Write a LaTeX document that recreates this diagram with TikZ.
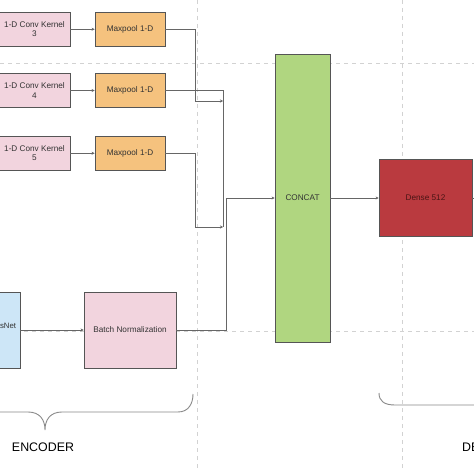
\documentclass[tikz,border=0pt]{standalone}
\usepackage{fontspec}
\setmainfont{Liberation Sans}
\usetikzlibrary{arrows.meta}
\definecolor{pinkf}{HTML}{F2D4DE}
\definecolor{orangef}{HTML}{F5C27E}
\definecolor{greenf}{HTML}{B0D680}
\definecolor{redf}{HTML}{BA3A3F}
\definecolor{bluef}{HTML}{CDE6F7}
\definecolor{bord}{HTML}{555555}
\definecolor{linec}{HTML}{666666}
\definecolor{gridc}{HTML}{D2D2D2}
\definecolor{bracec}{HTML}{8A8A8A}
\definecolor{txt}{HTML}{333333}
\definecolor{dtxt}{HTML}{4A1515}
\tikzset{
  box/.style={draw=bord, line width=0.8bp, inner sep=1bp, align=center,
    font=\fontsize{8.2bp}{9.6bp}\selectfont, text=txt},
  convbox/.style={box, fill=pinkf, minimum width=71bp, minimum height=34.5bp},
  poolbox/.style={box, fill=orangef, minimum width=70bp, minimum height=34.5bp},
  conn/.style={draw=linec, line width=0.6bp},
  arr/.style={conn, -{Stealth[length=3bp,width=3bp]}},
  gridline/.style={draw=gridc, line width=0.7bp, dash pattern=on 4bp off 4bp},
  bracel/.style={draw=bracec, line width=0.9bp},
  lbl/.style={font=\fontsize{12.4bp}{14bp}\selectfont, text=black, inner sep=0pt}
}
\begin{document}
\begin{tikzpicture}[x=1bp,y=-1bp]
\useasboundingbox[fill=white] (0,0) rectangle (474,474);
\begin{scope}
\clip (0,0) rectangle (474,474);
% grid
\draw[gridline] (0,63) -- (474,63);
\draw[gridline] (0,331) -- (474,331);
\draw[gridline] (197,0) -- (197,470);
\draw[gridline] (402,0) -- (402,470);

% nodes
\node[convbox] (c3) at (34.5,29.25) {1-D Conv Kernel\\3};
\node[poolbox] (m1) at (130,29.25) {Maxpool 1-D};
\node[convbox] (c4) at (34.5,90.5) {1-D Conv Kernel\\4};
\node[poolbox] (m2) at (130,90.5) {Maxpool 1-D};
\node[convbox] (c5) at (34.5,153.25) {1-D Conv Kernel\\5};
\node[poolbox] (m3) at (130,153.25) {Maxpool 1-D};
\node[box, fill=greenf, minimum width=55bp, minimum height=288bp] (cc) at (302.5,198) {CONCAT};
\node[box, fill=redf, text=dtxt, minimum width=93bp, minimum height=77bp] (dn) at (425.5,198) {Dense 512};
\node[box, fill=bluef, minimum width=38bp, minimum height=76bp] (rn) at (1,330) {};
\node[box, draw=none, anchor=east, inner sep=0pt, font=\fontsize{7.8bp}{9bp}\selectfont] (rnl) at (16.5,326) {ResNet};
\node[box, fill=pinkf, minimum width=92bp, minimum height=76bp] (bn) at (130,330) {Batch Normalization};

\coordinate (j1) at (223,101);
\coordinate (j3) at (223,227);
\coordinate (k) at (226,198);
\coordinate (out) at (480,198);

% connectors
\draw[arr] (c3.east) -- (m1.west);
\draw[arr] (c4.east) -- (m2.west);
\draw[arr] (c5.east) -- (m3.west);
\draw[arr] (m1.east) -- ++(30,0) |- (j1);
\draw[conn] (m2.east) -| (j3);
\draw[arr] (m3.east) -- ++(30,0) |- (j3);
\draw[arr] (bn.east) -| (k) -- (cc.west);
\draw[arr] (rn.east) -- (bn.west);
\draw[arr] (cc.east) -- (dn.west);
\draw[conn] (dn.east) -- (out);

% braces
\draw[bracel] (-10,412) -- (28,412) .. controls (40,412) and (45,420) .. (45,430)
  .. controls (45,420) and (50,412) .. (62,412) -- (178,412)
  .. controls (189,412) and (193,403) .. (193,394);
\draw[bracel] (379,393) .. controls (379,401) and (384,405) .. (395,405) -- (480,405);

\node[lbl] (enc) at (43,447) {ENCODER};
\node[lbl, anchor=west] (dec) at (462,447) {DECODER};
\end{scope}
\end{tikzpicture}
\end{document}
